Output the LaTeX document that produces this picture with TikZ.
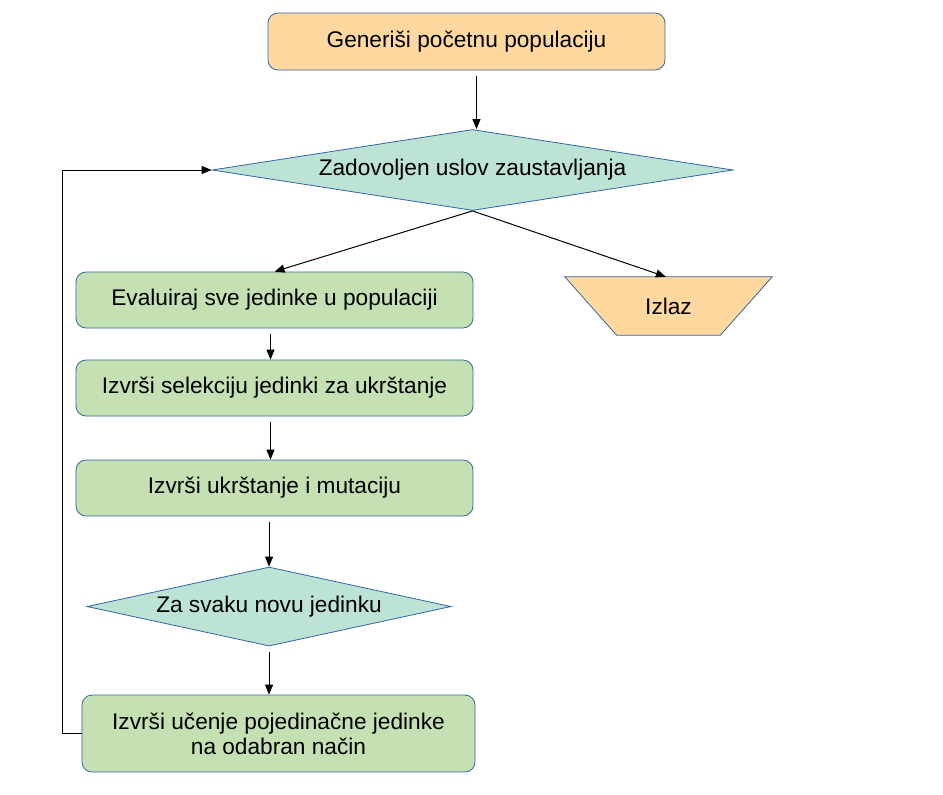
\documentclass[tikz,border=0pt]{standalone}
\usepackage{fontspec}
\setmainfont{Liberation Sans}
\usetikzlibrary{arrows.meta,positioning,shapes.geometric}
\definecolor{startfill}{HTML}{FFD8A0}
\definecolor{procfill}{HTML}{C5E0B3}
\definecolor{condfill}{HTML}{BCE3D3}
\definecolor{edgeblue}{HTML}{3465A4}

\begin{document}
\begin{tikzpicture}[x=0.75pt,y=-0.75pt,node distance=75pt,on grid,
   every node/.style={font=\fontsize{17}{19}\selectfont},
   startbox/.style={draw=edgeblue,fill=startfill,line width=0.6pt,rounded corners=7.5pt,
      minimum width=297.75pt,minimum height=42.75pt},
   procbox/.style={draw=edgeblue,fill=procfill,line width=0.6pt,rounded corners=7.5pt,
      minimum width=297.75pt,minimum height=42pt,align=center},
   decision/.style={diamond,draw=edgeblue,fill=condfill,line width=0.6pt,inner sep=0pt,aspect=6},
   exitbox/.style={minimum width=155.25pt,minimum height=43.5pt},
   exitline/.style={draw=edgeblue,fill=startfill,line width=0.6pt},
   flow/.style={-{Triangle[length=7.5pt,width=6pt]},line width=0.75pt,shorten <=4pt}]
   \useasboundingbox (0,0) rectangle (943,794);

   \node[startbox] (gen) at (466.5,41.5) {Generiši početnu populaciju};
   \node[decision,minimum width=390.75pt,minimum height=60.75pt] (stop) at (472.5,170)
      {Zadovoljen uslov zaustavljanja};
   \node[procbox] (eval) at (274.5,300) {Evaluiraj sve jedinke u populaciji};
   \node[procbox] (sel) [below=66pt of eval] {Izvrši selekciju jedinki za ukrštanje};
   \node[procbox] (cross) [below=of sel] {Izvrši ukrštanje i mutaciju};
   \node[decision,minimum width=273pt,minimum height=59.25pt] (each)
      [below=88.9pt of cross,xshift=-4.1pt] {Za svaku novu jedinku};
   \node[procbox,minimum width=294.75pt,minimum height=57.75pt] (learn)
      [below=95.25pt of each,xshift=7.1pt] {Izvrši učenje pojedinačne jedinke\\na odabran način};
   % trapezium drawn round the exit node
   \node[exitbox] (out) at (668.5,306) {};
   \path[exitline] (out.north west) -- (out.north east) -- ([xshift=-39pt]out.south east)
      -- ([xshift=39pt]out.south west) -- cycle;
   \node (outtext) at (out.center) {Izlaz};

   \draw[flow] ([xshift=3pt]gen.south -| stop.north) -- ([xshift=3pt]stop.north);
   \draw[flow,shorten <=0pt] (stop.south) -- (eval.north);
   \draw[flow,shorten <=0pt] (stop.south) -- ([xshift=-2pt]out.north);
   \draw[flow] ([xshift=-3pt]eval.south) -- ([xshift=-3pt]sel.north);
   \draw[flow] ([xshift=-3pt]sel.south) -- ([xshift=-3pt]sel.south |- cross.north);
   \draw[flow] (each.north |- cross.south) -- (each.north);
   \draw[flow] (each.south) -- (each.south |- learn.north);
   \draw[flow,shorten <=0pt] (learn.west) -- ++(-19,0) |- (stop.west);
\end{tikzpicture}
\end{document}
